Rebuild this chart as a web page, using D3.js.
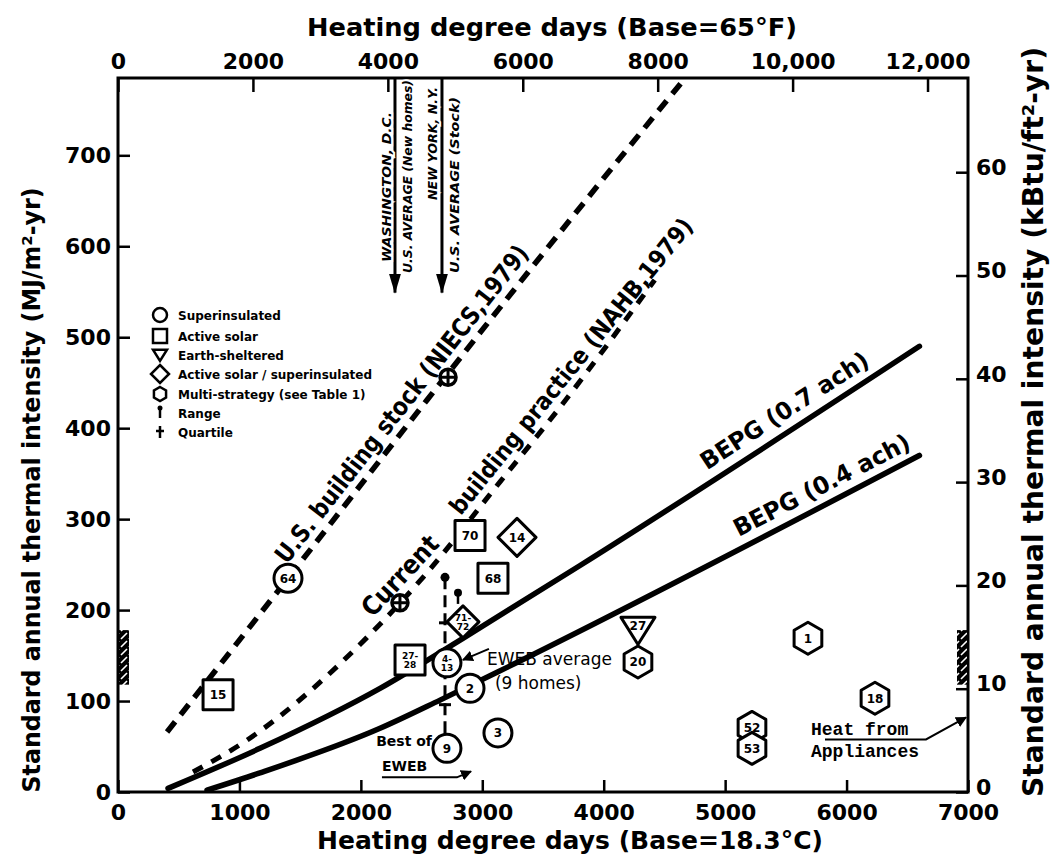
<!DOCTYPE html>
<html>
<head>
<meta charset="utf-8">
<script src="https://cdn.jsdelivr.net/npm/d3@7"></script>
<style>
  body { margin: 0; background: #fff; }
  svg { display: block; font-family: "DejaVu Sans", sans-serif; }
  .axis path.domain { display: none; }
  .axis line { stroke: #000; stroke-width: 2.5px; }
  .axis text { font-family: "DejaVu Sans", sans-serif; font-size: 22px; font-weight: bold; fill: #000; }
</style>
</head>
<body>
<svg id="chart" width="1055" height="856"></svg>
<script>
// ---- values ----
var hddTicks = [0, 1000, 2000, 3000, 4000, 5000, 6000, 7000];
var hddFTicks = [0, 2000, 4000, 6000, 8000, 10000, 12000];
var hddFLabels = ['0', '2000', '4000', '6000', '8000', '10,000', '12,000'];
var mjTicks = [0, 100, 200, 300, 400, 500, 600, 700];
var kbtuTicks = [0, 10, 20, 30, 40, 50, 60];
var mjPerKbtu = 11.357;   // 1 kBtu/ft2 = 11.357 MJ/m2

// reference lines (degree days C, MJ/m2-yr)
var niecsHdd = [404, 1400, 2545, 3500, 4653];
var niecsMj = [66, 235, 431, 592, 782];
var nahbHdd = [618, 1062, 2051, 2512, 3146, 3640, 4420];
var nahbMj = [22, 57, 170, 236, 341, 423, 563];
var bepg07Hdd = [412, 1169, 2158, 2841, 3805, 6600];
var bepg07Mj = [4, 48, 114, 169, 249, 490];
var bepg04Hdd = [733, 1169, 2158, 2652, 3204, 6600];
var bepg04Mj = [2, 21, 70, 101, 137, 370];

// individual houses
var houseHdd = [1400, 824, 2899, 3286, 3088, 2841, 2405, 2709, 2899, 3129, 2709, 4282, 4282, 5682, 6234, 5221, 5221];
var houseMj = [235, 107, 282, 280, 235, 187, 145, 142, 114, 65, 48, 178, 143, 169, 103, 71, 48];
var houseType = ['circle', 'square', 'square', 'diamond', 'square', 'diamond', 'square', 'circle', 'circle', 'circle',
                 'circle', 'tri', 'hex', 'hex', 'hex', 'hex', 'hex'];
var houseLabel = ['64', '15', '70', '14', '68', '71-\n72', '27-\n28', '4-\n13', '2', '3', '9', '27', '20', '1', '18', '52', '53'];

// stock / practice averages (circled crosses)
var crossHdd = [2718, 2322];
var crossMj = [456, 208];

// EWEB range and quartiles
var rangeHdd = 2693;
var rangeMj = [236, 63];
var quartileMj = [186, 96];
var diamondRangeHdd = 2800;
var diamondRangeMj = 219;

// city / national averages (arrows from the top)
var arrowHdd = [2281, 2668];
var arrowEndMj = 549;

// heat from appliances
var applianceMj = [118, 178];
var applianceArrowMj = 82;

var legendNames = ['Superinsulated', 'Active solar', 'Earth-sheltered', 'Active solar / superinsulated',
                   'Multi-strategy (see Table 1)', 'Range', 'Quartile'];
var legendKinds = ['circle', 'square', 'tri', 'diamond', 'hex', 'range', 'quartile'];

// ---- scales ----
var svg = d3.select('#chart');
var x = d3.scaleLinear().domain([0, 7000]).range([118, 968]);
var xF = d3.scaleLinear().domain([0, 12600]).range([118, 968]);
var y = d3.scaleLinear().domain([0, 785]).range([792, 78]);
var y2 = d3.scaleLinear().domain([0, 785 / mjPerKbtu]).range([792, 78]);

var defs = svg.append('defs');
defs.append('marker').attr('id', 'arrow').attr('viewBox', '0 0 10 10')
    .attr('refX', 9).attr('refY', 5).attr('markerWidth', 11).attr('markerHeight', 11)
    .attr('markerUnits', 'userSpaceOnUse').attr('orient', 'auto')
  .append('path').attr('d', 'M0,0L10,5L0,10Z').attr('fill', '#000');
defs.append('marker').attr('id', 'bigArrow').attr('viewBox', '0 0 20 12')
    .attr('refX', 19).attr('refY', 6).attr('markerWidth', 20).attr('markerHeight', 12)
    .attr('markerUnits', 'userSpaceOnUse').attr('orient', 'auto')
  .append('path').attr('d', 'M0,0L20,6L0,12Z').attr('fill', '#000');
var hatch = defs.append('pattern').attr('id', 'hatch').attr('patternUnits', 'userSpaceOnUse')
    .attr('width', 8).attr('height', 8);
hatch.append('rect').attr('width', 8).attr('height', 8).attr('fill', '#000');
hatch.append('path').attr('d', 'M1,7L7,1').attr('stroke', '#fff').attr('stroke-width', 1.6);

// ---- axes ----
svg.append('g').attr('class', 'axis')
    .attr('transform', 'translate(0,' + y(0) + ')')
    .call(d3.axisBottom(x).tickValues(hddTicks).tickSize(-12).tickPadding(12).tickFormat(d3.format('d')));
svg.append('g').attr('class', 'axis')
    .attr('transform', 'translate(0,' + y.range()[1] + ')')
    .call(d3.axisTop(xF).tickValues(hddFTicks).tickSize(-14).tickPadding(9)
      .tickFormat(function (d, i) { return hddFLabels[i]; }));
svg.append('g').attr('class', 'axis')
    .attr('transform', 'translate(' + x(0) + ',0)')
    .call(d3.axisLeft(y).tickValues(mjTicks).tickSize(-12).tickPadding(7));
svg.append('g').attr('class', 'axis')
    .attr('transform', 'translate(' + x(7000) + ',0)')
    .call(d3.axisRight(y2).tickValues(kbtuTicks).tickSize(-12).tickPadding(8))
  .selectAll('text').attr('dy', '0.1em');

// frame
svg.append('rect')
    .attr('x', x(0)).attr('y', y.range()[1])
    .attr('width', x(7000) - x(0)).attr('height', y(0) - y.range()[1])
    .attr('fill', 'none').attr('stroke', '#000').attr('stroke-width', 3);

// axis titles
function title(txt, tx, ty, rot, size, len) {
  svg.append('text')
      .attr('transform', 'translate(' + tx + ',' + ty + ') rotate(' + rot + ')')
      .attr('text-anchor', 'middle')
      .attr('font-size', size).attr('font-weight', 'bold')
      .attr('textLength', len).attr('lengthAdjust', 'spacingAndGlyphs')
      .text(txt);
}
title('Heating degree days (Base=65°F)', 552, 36, 0, 25, 490);
title('Heating degree days (Base=18.3°C)', 570, 849, 0, 25, 506);
title('Standard annual thermal intensity (MJ/m²-yr)', 40, 490, -90, 25, 605);
title('Standard annual thermal intensity (kBtu/ft²-yr)', 1043, 422, -90, 28, 750);

// ---- appliance bars ----
svg.append('rect').attr('x', x(0) + 1).attr('width', 10)
    .attr('y', y(applianceMj[1])).attr('height', y(applianceMj[0]) - y(applianceMj[1]))
    .attr('fill', 'url(#hatch)');
svg.append('rect').attr('x', x(7000) - 11).attr('width', 10)
    .attr('y', y(applianceMj[1])).attr('height', y(applianceMj[0]) - y(applianceMj[1]))
    .attr('fill', 'url(#hatch)');

// ---- reference lines ----
var line = d3.line().x(function (d) { return x(d[0]); }).y(function (d) { return y(d[1]); })
    .curve(d3.curveMonotoneX);
function pairs(a, b) { return a.map(function (v, i) { return [v, b[i]]; }); }

svg.append('path').attr('d', line(pairs(niecsHdd, niecsMj)))
    .attr('fill', 'none').attr('stroke', '#000').attr('stroke-width', 5.5).attr('stroke-dasharray', '13,9');
svg.append('path').attr('d', line(pairs(nahbHdd, nahbMj)))
    .attr('fill', 'none').attr('stroke', '#000').attr('stroke-width', 5).attr('stroke-dasharray', '11,10');
svg.append('path').attr('d', line(pairs(bepg07Hdd, bepg07Mj)))
    .attr('fill', 'none').attr('stroke', '#000').attr('stroke-width', 5.5).attr('stroke-linecap', 'round');
svg.append('path').attr('d', line(pairs(bepg04Hdd, bepg04Mj)))
    .attr('fill', 'none').attr('stroke', '#000').attr('stroke-width', 5.5).attr('stroke-linecap', 'round');

// text running along a line
function labelAlong(hddArr, mjArr, startHdd, txt, off, size, len) {
  var i = Math.max(0, Math.min(hddArr.length - 2, d3.bisectRight(hddArr, startHdd) - 1));
  var x0 = x(hddArr[i]), y0 = y(mjArr[i]), x1 = x(hddArr[i + 1]), y1 = y(mjArr[i + 1]);
  var t = (startHdd - hddArr[i]) / (hddArr[i + 1] - hddArr[i]);
  var px = x0 + t * (x1 - x0), py = y0 + t * (y1 - y0);
  var a = Math.atan2(y1 - y0, x1 - x0);
  var nx = Math.sin(a), ny = -Math.cos(a);
  svg.append('text')
      .attr('transform', 'translate(' + (px + nx * off) + ',' + (py + ny * off) + ') rotate(' + (a * 180 / Math.PI) + ')')
      .attr('font-size', size).attr('font-weight', 'bold')
      .attr('textLength', len).attr('lengthAdjust', 'spacingAndGlyphs')
      .text(txt);
}
labelAlong(niecsHdd, niecsMj, 1450, 'U.S. building stock  (NIECS,1979)', 9, 25, 395);
labelAlong(nahbHdd, nahbMj, 2150, 'Current', 9, 26, 100);
labelAlong(nahbHdd, nahbMj, 2880, 'building practice (NAHB,1979)', 9, 24, 372);
labelAlong(bepg07Hdd, bepg07Mj, 4900, 'BEPG (0.7 ach)', 11, 24, 195);
labelAlong(bepg04Hdd, bepg04Mj, 5150, 'BEPG (0.4 ach)', 10, 24, 195);

// ---- arrows from the top ----
arrowHdd.forEach(function (h) {
  svg.append('line').attr('x1', x(h)).attr('x2', x(h))
      .attr('y1', y.range()[1]).attr('y2', y(arrowEndMj))
      .attr('stroke', '#000').attr('stroke-width', 3).attr('marker-end', 'url(#bigArrow)');
});
function vtext(txt, bx, endY, len) {
  svg.append('text')
      .attr('transform', 'translate(' + bx + ',' + endY + ') rotate(-90)')
      .attr('font-size', 13).attr('font-weight', 'bold').attr('font-style', 'italic')
      .attr('textLength', len).attr('lengthAdjust', 'spacingAndGlyphs')
      .attr('stroke', '#fff').attr('stroke-width', 4).attr('paint-order', 'stroke')
      .text(txt);
}
vtext('WASHINGTON, D.C.', x(arrowHdd[0]) - 4, 262, 150);
vtext('U.S. AVERAGE (New homes)', x(arrowHdd[0]) + 17, 273, 193);
vtext('NEW YORK, N.Y.', x(arrowHdd[1]) - 5, 200, 113);
vtext('U.S. AVERAGE (Stock)', x(arrowHdd[1]) + 17, 273, 176);

// ---- EWEB range ----
svg.append('line').attr('x1', x(rangeHdd)).attr('x2', x(rangeHdd))
    .attr('y1', y(rangeMj[0])).attr('y2', y(rangeMj[1]))
    .attr('stroke', '#000').attr('stroke-width', 3).attr('stroke-dasharray', '12,6');
svg.append('circle').attr('cx', x(rangeHdd)).attr('cy', y(rangeMj[0])).attr('r', 4.5);
quartileMj.forEach(function (q) {
  svg.append('line').attr('x1', x(rangeHdd) - 6).attr('x2', x(rangeHdd) + 6)
      .attr('y1', y(q)).attr('y2', y(q)).attr('stroke', '#000').attr('stroke-width', 3);
});
svg.append('line').attr('x1', x(diamondRangeHdd)).attr('x2', x(diamondRangeHdd))
    .attr('y1', y(diamondRangeMj)).attr('y2', y(187) - 18)
    .attr('stroke', '#000').attr('stroke-width', 2.5);
svg.append('circle').attr('cx', x(diamondRangeHdd)).attr('cy', y(diamondRangeMj)).attr('r', 4);

// ---- markers ----
var shapeSize = { circle: 14, square: 15, tri: 17, diamond: 19, hex: 16 };
function shape(kind, r) {
  if (kind === 'circle') return 'M' + r + ',0A' + r + ',' + r + ' 0 1 1 ' + (-r) + ',0A' + r + ',' + r + ' 0 1 1 ' + r + ',0Z';
  if (kind === 'square') return 'M' + (-r) + ',' + (-r) + 'H' + r + 'V' + r + 'H' + (-r) + 'Z';
  if (kind === 'tri') return 'M' + (-r) + ',' + (-0.75 * r) + 'H' + r + 'L0,' + (0.85 * r) + 'Z';
  if (kind === 'diamond') return 'M0,' + (-r) + 'L' + r + ',0L0,' + r + 'L' + (-r) + ',0Z';
  var pts = d3.range(6).map(function (k) {
    var a = (-90 + 60 * k) * Math.PI / 180;
    return [r * Math.cos(a), r * Math.sin(a)];
  });
  return 'M' + pts.join('L') + 'Z';
}

var houses = houseHdd.map(function (h, i) {
  return { hdd: h, mj: houseMj[i], type: houseType[i], label: houseLabel[i] };
});
var hg = svg.append('g').selectAll('.house').data(houses).enter().append('g')
    .attr('class', 'house')
    .attr('transform', function (d) { return 'translate(' + x(d.hdd) + ',' + y(d.mj) + ')'; });
hg.append('path')
    .attr('d', function (d) { return shape(d.type, d.label === '71-\n72' ? 16 : shapeSize[d.type]); })
    .attr('fill', '#fff').attr('stroke', '#000').attr('stroke-width', 3).attr('stroke-linejoin', 'round');
hg.each(function (d) {
  var lines = d.label.split('\n');
  var t = d3.select(this).append('text')
      .attr('text-anchor', 'middle').attr('font-weight', 'bold')
      .attr('font-size', lines.length > 1 ? 9 : 12);
  lines.forEach(function (l, k) {
    t.append('tspan').attr('x', 0)
        .attr('y', lines.length > 1 ? (k === 0 ? -1 : 8) : (d.type === 'tri' ? 0 : 4.5))
        .text(l);
  });
});

// circled crosses
crossHdd.forEach(function (h, i) {
  var cx = x(h), cy = y(crossMj[i]);
  svg.append('circle').attr('cx', cx).attr('cy', cy).attr('r', 8)
      .attr('fill', '#fff').attr('stroke', '#000').attr('stroke-width', 3.5);
  svg.append('path').attr('d', 'M' + (cx - 8) + ',' + cy + 'H' + (cx + 8) + 'M' + cx + ',' + (cy - 8) + 'V' + (cy + 8))
      .attr('stroke', '#000').attr('stroke-width', 3);
});

// ---- annotations ----
var ewx = x(houseHdd[7]), ewy = y(houseMj[7]);
svg.append('text').attr('x', ewx + 40).attr('y', ewy + 2).attr('font-size', 17).text('EWEB average');
svg.append('text').attr('x', ewx + 48).attr('y', ewy + 26).attr('font-size', 17).text('(9 homes)');
svg.append('line').attr('x1', ewx + 42).attr('y1', ewy - 14).attr('x2', ewx + 16).attr('y2', ewy - 3)
    .attr('stroke', '#000').attr('stroke-width', 2).attr('marker-end', 'url(#arrow)');

var bx = x(houseHdd[10]), by = y(houseMj[10]);
svg.append('text').attr('x', bx - 15).attr('y', by - 2).attr('text-anchor', 'end')
    .attr('font-size', 14).attr('font-weight', 'bold').text('Best of');
svg.append('text').attr('x', bx - 65).attr('y', by + 23)
    .attr('font-size', 14).attr('font-weight', 'bold').text('EWEB');
svg.append('path').attr('d', 'M' + (bx - 65) + ',' + (by + 29) + 'H' + (bx + 10) + 'L' + (bx + 24) + ',' + (by + 23))
    .attr('fill', 'none').attr('stroke', '#000').attr('stroke-width', 2).attr('marker-end', 'url(#arrow)');

var hx = x(7000) - 2, hy = y(applianceArrowMj);
svg.append('text').attr('x', hx - 155).attr('y', hy + 18)
    .attr('font-family', '"Liberation Mono", monospace').attr('font-weight', 'bold').attr('font-size', 18)
    .text('Heat from');
svg.append('text').attr('x', hx - 155).attr('y', hy + 40)
    .attr('font-family', '"Liberation Mono", monospace').attr('font-weight', 'bold').attr('font-size', 18)
    .text('Appliances');
svg.append('path').attr('d', 'M' + (hx - 141) + ',' + (hy + 22) + 'H' + (hx - 40) + 'L' + hx + ',' + hy)
    .attr('fill', 'none').attr('stroke', '#000').attr('stroke-width', 2).attr('marker-end', 'url(#arrow)');

// ---- legend ----
var lg = svg.append('g').attr('transform', 'translate(160,0)');
var legendY = [315, 336, 355, 374, 394, 413, 432];
legendKinds.forEach(function (k, i) {
  var row = lg.append('g').attr('transform', 'translate(0,' + legendY[i] + ')');
  if (k === 'range') {
    row.append('line').attr('y1', -4).attr('y2', 5).attr('stroke', '#000').attr('stroke-width', 2.5);
    row.append('circle').attr('cy', -5).attr('r', 2.5);
  } else if (k === 'quartile') {
    row.append('line').attr('y1', -6).attr('y2', 6).attr('stroke', '#000').attr('stroke-width', 2.5);
    row.append('line').attr('x1', -4).attr('x2', 4).attr('y1', -1).attr('y2', -1).attr('stroke', '#000').attr('stroke-width', 2.5);
  } else {
    row.append('path').attr('d', shape(k, k === 'diamond' ? 9 : 7))
        .attr('fill', '#fff').attr('stroke', '#000').attr('stroke-width', 2.5);
  }
  row.append('text').attr('x', 18).attr('y', 5)
      .attr('font-size', 12).attr('font-weight', 'bold')
      .text(legendNames[i]);
});
</script>
</body>
</html>
